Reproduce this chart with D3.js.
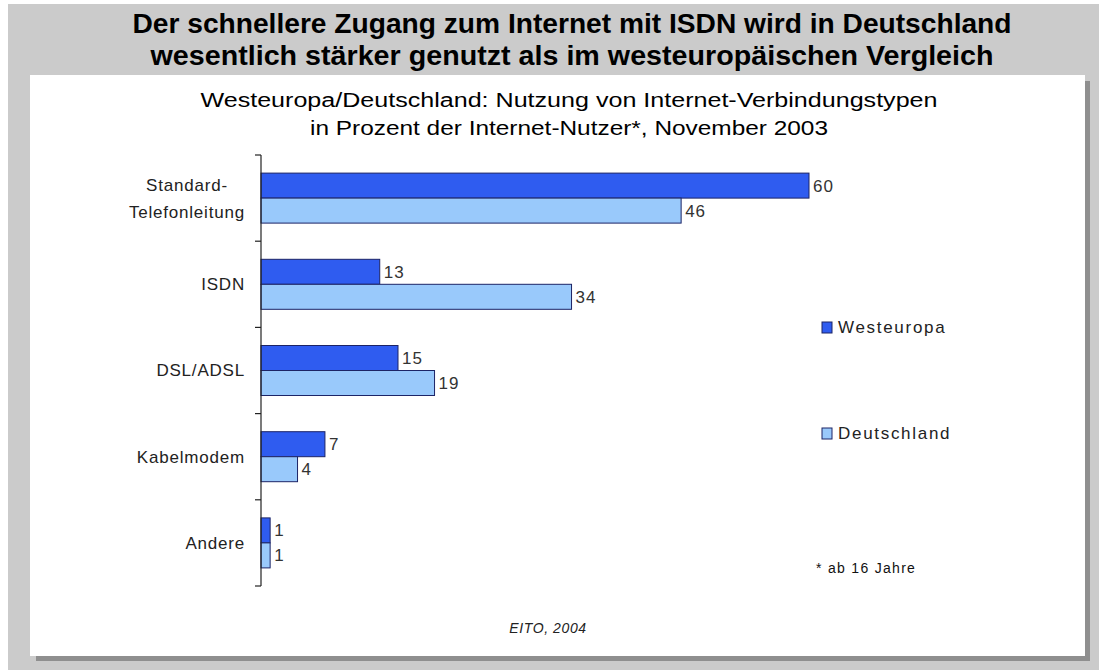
<!DOCTYPE html>
<html>
<head>
<meta charset="utf-8">
<script src="https://cdn.jsdelivr.net/npm/d3@7"></script>
<style>
  body { margin: 0; background: #fff; }
  svg { display: block; font-family: "Liberation Sans", Arial, sans-serif; }
</style>
</head>
<body>
<svg id="chart"></svg>
<script>
const categories = ["Standard-\nTelefonleitung", "ISDN", "DSL/ADSL", "Kabelmodem", "Andere"];
const seriesNames = ["Westeuropa", "Deutschland"];
const westeuropa = [60, 13, 15, 7, 1];
const deutschland = [46, 34, 19, 4, 1];
const titleLines = [
  "Der schnellere Zugang zum Internet mit ISDN wird in Deutschland",
  "wesentlich stärker genutzt als im westeuropäischen Vergleich"
];
const subtitleLines = [
  "Westeuropa/Deutschland: Nutzung von Internet-Verbindungstypen",
  "in Prozent der Internet-Nutzer*, November 2003"
];
const footnote = "* ab 16 Jahre";
const source = "EITO, 2004";

const size = { width: 1099, height: 670 };
const colors = ["#2f5cf0", "#99c9fb"];
const strokeCol = "#1c2466";

const svg = d3.select("#chart")
  .attr("width", size.width)
  .attr("height", size.height);

// background frame + shadow
svg.append("rect").attr("x", 8).attr("y", 4).attr("width", 1091).attr("height", 666).attr("fill", "#cbcbcb");
svg.append("rect").attr("x", 36).attr("y", 81).attr("width", 1054).attr("height", 580).attr("fill", "#8f8f8f");
svg.append("rect").attr("x", 30).attr("y", 75).attr("width", 1055).attr("height", 581).attr("fill", "#fff");

// titles (the original is a stretched slide, so squeeze text to its widths)
const titleWidths = [879, 843];
svg.append("g")
  .selectAll("text")
  .data(titleLines)
  .join("text")
  .attr("x", 572)
  .attr("y", (d, i) => 33 + i * 32)
  .attr("text-anchor", "middle")
  .attr("textLength", (d, i) => titleWidths[i])
  .attr("lengthAdjust", "spacingAndGlyphs")
  .style("font-size", "27px")
  .style("font-weight", "bold")
  .attr("fill", "#000")
  .text((d) => d);

const subtitleWidths = [737, 518];
svg.append("g")
  .selectAll("text")
  .data(subtitleLines)
  .join("text")
  .attr("x", 569)
  .attr("y", (d, i) => 107 + i * 28)
  .attr("text-anchor", "middle")
  .attr("textLength", (d, i) => subtitleWidths[i])
  .attr("lengthAdjust", "spacingAndGlyphs")
  .style("font-size", "20px")
  .attr("fill", "#000")
  .text((d) => d);

const x = d3.scaleLinear().domain([0, 60]).range([261, 809]);

const y = d3.scaleBand()
  .domain(categories)
  .range([155, 586])
  .paddingInner(0.42)
  .paddingOuter(0.21);

const ySub = d3.scaleBand()
  .domain(seriesNames)
  .range([0, y.bandwidth()]);

const rows = categories.map((c, i) => ({ cat: c, values: [westeuropa[i], deutschland[i]] }));

const groups = svg.append("g")
  .selectAll("g")
  .data(rows)
  .join("g")
  .attr("transform", (d) => `translate(0, ${y(d.cat)})`);

groups.selectAll("rect")
  .data((d) => d.values.map((v, j) => ({ v, name: seriesNames[j], j })))
  .join("rect")
  .attr("x", x(0))
  .attr("y", (d) => ySub(d.name))
  .attr("width", (d) => x(d.v) - x(0))
  .attr("height", ySub.bandwidth())
  .attr("fill", (d) => colors[d.j])
  .attr("stroke", strokeCol)
  .attr("stroke-width", 1);

groups.selectAll("text.val")
  .data((d) => d.values.map((v, j) => ({ v, name: seriesNames[j] })))
  .join("text")
  .attr("class", "val")
  .attr("x", (d) => x(d.v) + 4)
  .attr("y", (d) => ySub(d.name) + ySub.bandwidth() / 2)
  .attr("dy", "0.35em")
  .style("font-size", "17px")
  .style("letter-spacing", "1px")
  .attr("fill", "#333")
  .text((d) => d.v);

// axis
const step = y.step();
const tickYs = d3.range(categories.length + 1).map((i) => 155 + i * step);
svg.append("line")
  .attr("x1", x(0)).attr("x2", x(0))
  .attr("y1", tickYs[0]).attr("y2", tickYs[tickYs.length - 1])
  .attr("stroke", "#222").attr("stroke-width", 1.2);
svg.append("g")
  .selectAll("line")
  .data(tickYs)
  .join("line")
  .attr("x1", x(0) - 6).attr("x2", x(0))
  .attr("y1", (d) => d).attr("y2", (d) => d)
  .attr("stroke", "#222").attr("stroke-width", 1.2);

// category labels, right aligned block, lines centered within
const labelRight = 245;
categories.forEach((c) => {
  const lines = c.split("\n");
  const g = svg.append("g");
  const cy = y(c) + y.bandwidth() / 2;
  const texts = g.selectAll("text")
    .data(lines)
    .join("text")
    .attr("y", (d, i) => cy + (i - (lines.length - 1) / 2) * 27)
    .attr("dy", "0.35em")
    .style("font-size", "17px")
    .style("letter-spacing", "0.8px")
    .attr("fill", "#222")
    .attr("text-anchor", "middle")
    .text((d) => d);
  const maxW = d3.max(texts.nodes(), (n) => n.getComputedTextLength());
  texts.attr("x", labelRight - maxW / 2);
});

// legend
const legend = svg.append("g")
  .selectAll("g")
  .data(seriesNames)
  .join("g")
  .attr("transform", (d, i) => `translate(822, ${327 + i * 106})`);
legend.append("rect")
  .attr("x", 0).attr("y", -5)
  .attr("width", 10).attr("height", 11)
  .attr("fill", (d, i) => colors[i])
  .attr("stroke", strokeCol);
legend.append("text")
  .attr("x", 16)
  .attr("y", 0)
  .attr("dy", "0.35em")
  .style("font-size", "17px")
  .style("letter-spacing", "1.7px")
  .attr("fill", "#222")
  .text((d) => d);

svg.append("text")
  .attr("x", 816).attr("y", 573)
  .style("font-size", "14px")
  .style("letter-spacing", "1.3px")
  .attr("fill", "#111")
  .text(footnote);

svg.append("text")
  .attr("x", 548).attr("y", 633)
  .attr("text-anchor", "middle")
  .style("font-size", "14px")
  .style("font-style", "italic")
  .style("letter-spacing", "0.6px")
  .attr("fill", "#222")
  .text(source);
</script>
</body>
</html>
